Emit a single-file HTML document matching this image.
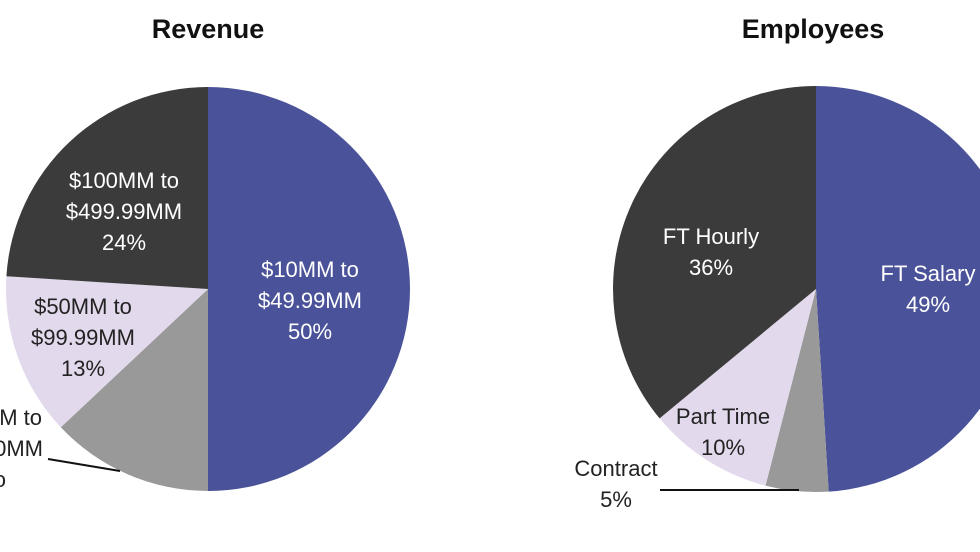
<!DOCTYPE html>
<html><head><meta charset="utf-8"><style>
html,body{margin:0;padding:0;background:#fff;}
svg{display:block;font-family:"Liberation Sans",sans-serif;}
</style></head><body>
<svg width="980" height="552" viewBox="0 0 980 552">
<text x="208" y="38" font-size="27" font-weight="bold" text-anchor="middle" fill="#111">Revenue</text>
<text x="813" y="38" font-size="27" font-weight="bold" text-anchor="middle" fill="#111">Employees</text>
<path d="M208,289 L208,87 A202,202 0 0 1 208,491 Z" fill="#4a5299"/>
<path d="M208,289 L208,491 A202,202 0 0 1 60.8,427.3 Z" fill="#999999"/>
<path d="M208,289 L60.8,427.3 A202,202 0 0 1 6.4,276.3 Z" fill="#e3d9ec"/>
<path d="M208,289 L6.4,276.3 A202,202 0 0 1 208,87 Z" fill="#3b3b3b"/>
<g font-size="22" fill="#fff" text-anchor="middle">
<text x="310" y="277">$10MM to</text><text x="310" y="308">$49.99MM</text><text x="310" y="339">50%</text>
<text x="124" y="188">$100MM to</text><text x="124" y="219">$499.99MM</text><text x="124" y="250">24%</text>
</g>
<g font-size="22" fill="#222" text-anchor="middle">
<text x="83" y="314">$50MM to</text><text x="83" y="345">$99.99MM</text><text x="83" y="376">13%</text>
</g>
<g font-size="22" fill="#222" text-anchor="end">
<text x="42" y="425">M to</text><text x="43" y="456">0MM</text><text x="6" y="487">o</text>
</g>
<line x1="48" y1="459" x2="120" y2="471" stroke="#111" stroke-width="2"/>
<path d="M816,289 L816,86 A203,203 0 0 1 828.7,491.6 Z" fill="#4a5299"/>
<path d="M816,289 L828.7,491.6 A203,203 0 0 1 765.5,485.6 Z" fill="#999999"/>
<path d="M816,289 L765.5,485.6 A203,203 0 0 1 659.6,418.4 Z" fill="#e3d9ec"/>
<path d="M816,289 L659.6,418.4 A203,203 0 0 1 816,86 Z" fill="#3b3b3b"/>
<g font-size="22" fill="#fff" text-anchor="middle">
<text x="711" y="244">FT Hourly</text><text x="711" y="275">36%</text>
<text x="928" y="281">FT Salary</text><text x="928" y="312">49%</text>
</g>
<g font-size="22" fill="#222" text-anchor="middle">
<text x="723" y="424">Part Time</text><text x="723" y="455">10%</text>
<text x="616" y="476">Contract</text><text x="616" y="507">5%</text>
</g>
<line x1="660" y1="490" x2="799" y2="490" stroke="#111" stroke-width="2"/>
</svg>
</body></html>
